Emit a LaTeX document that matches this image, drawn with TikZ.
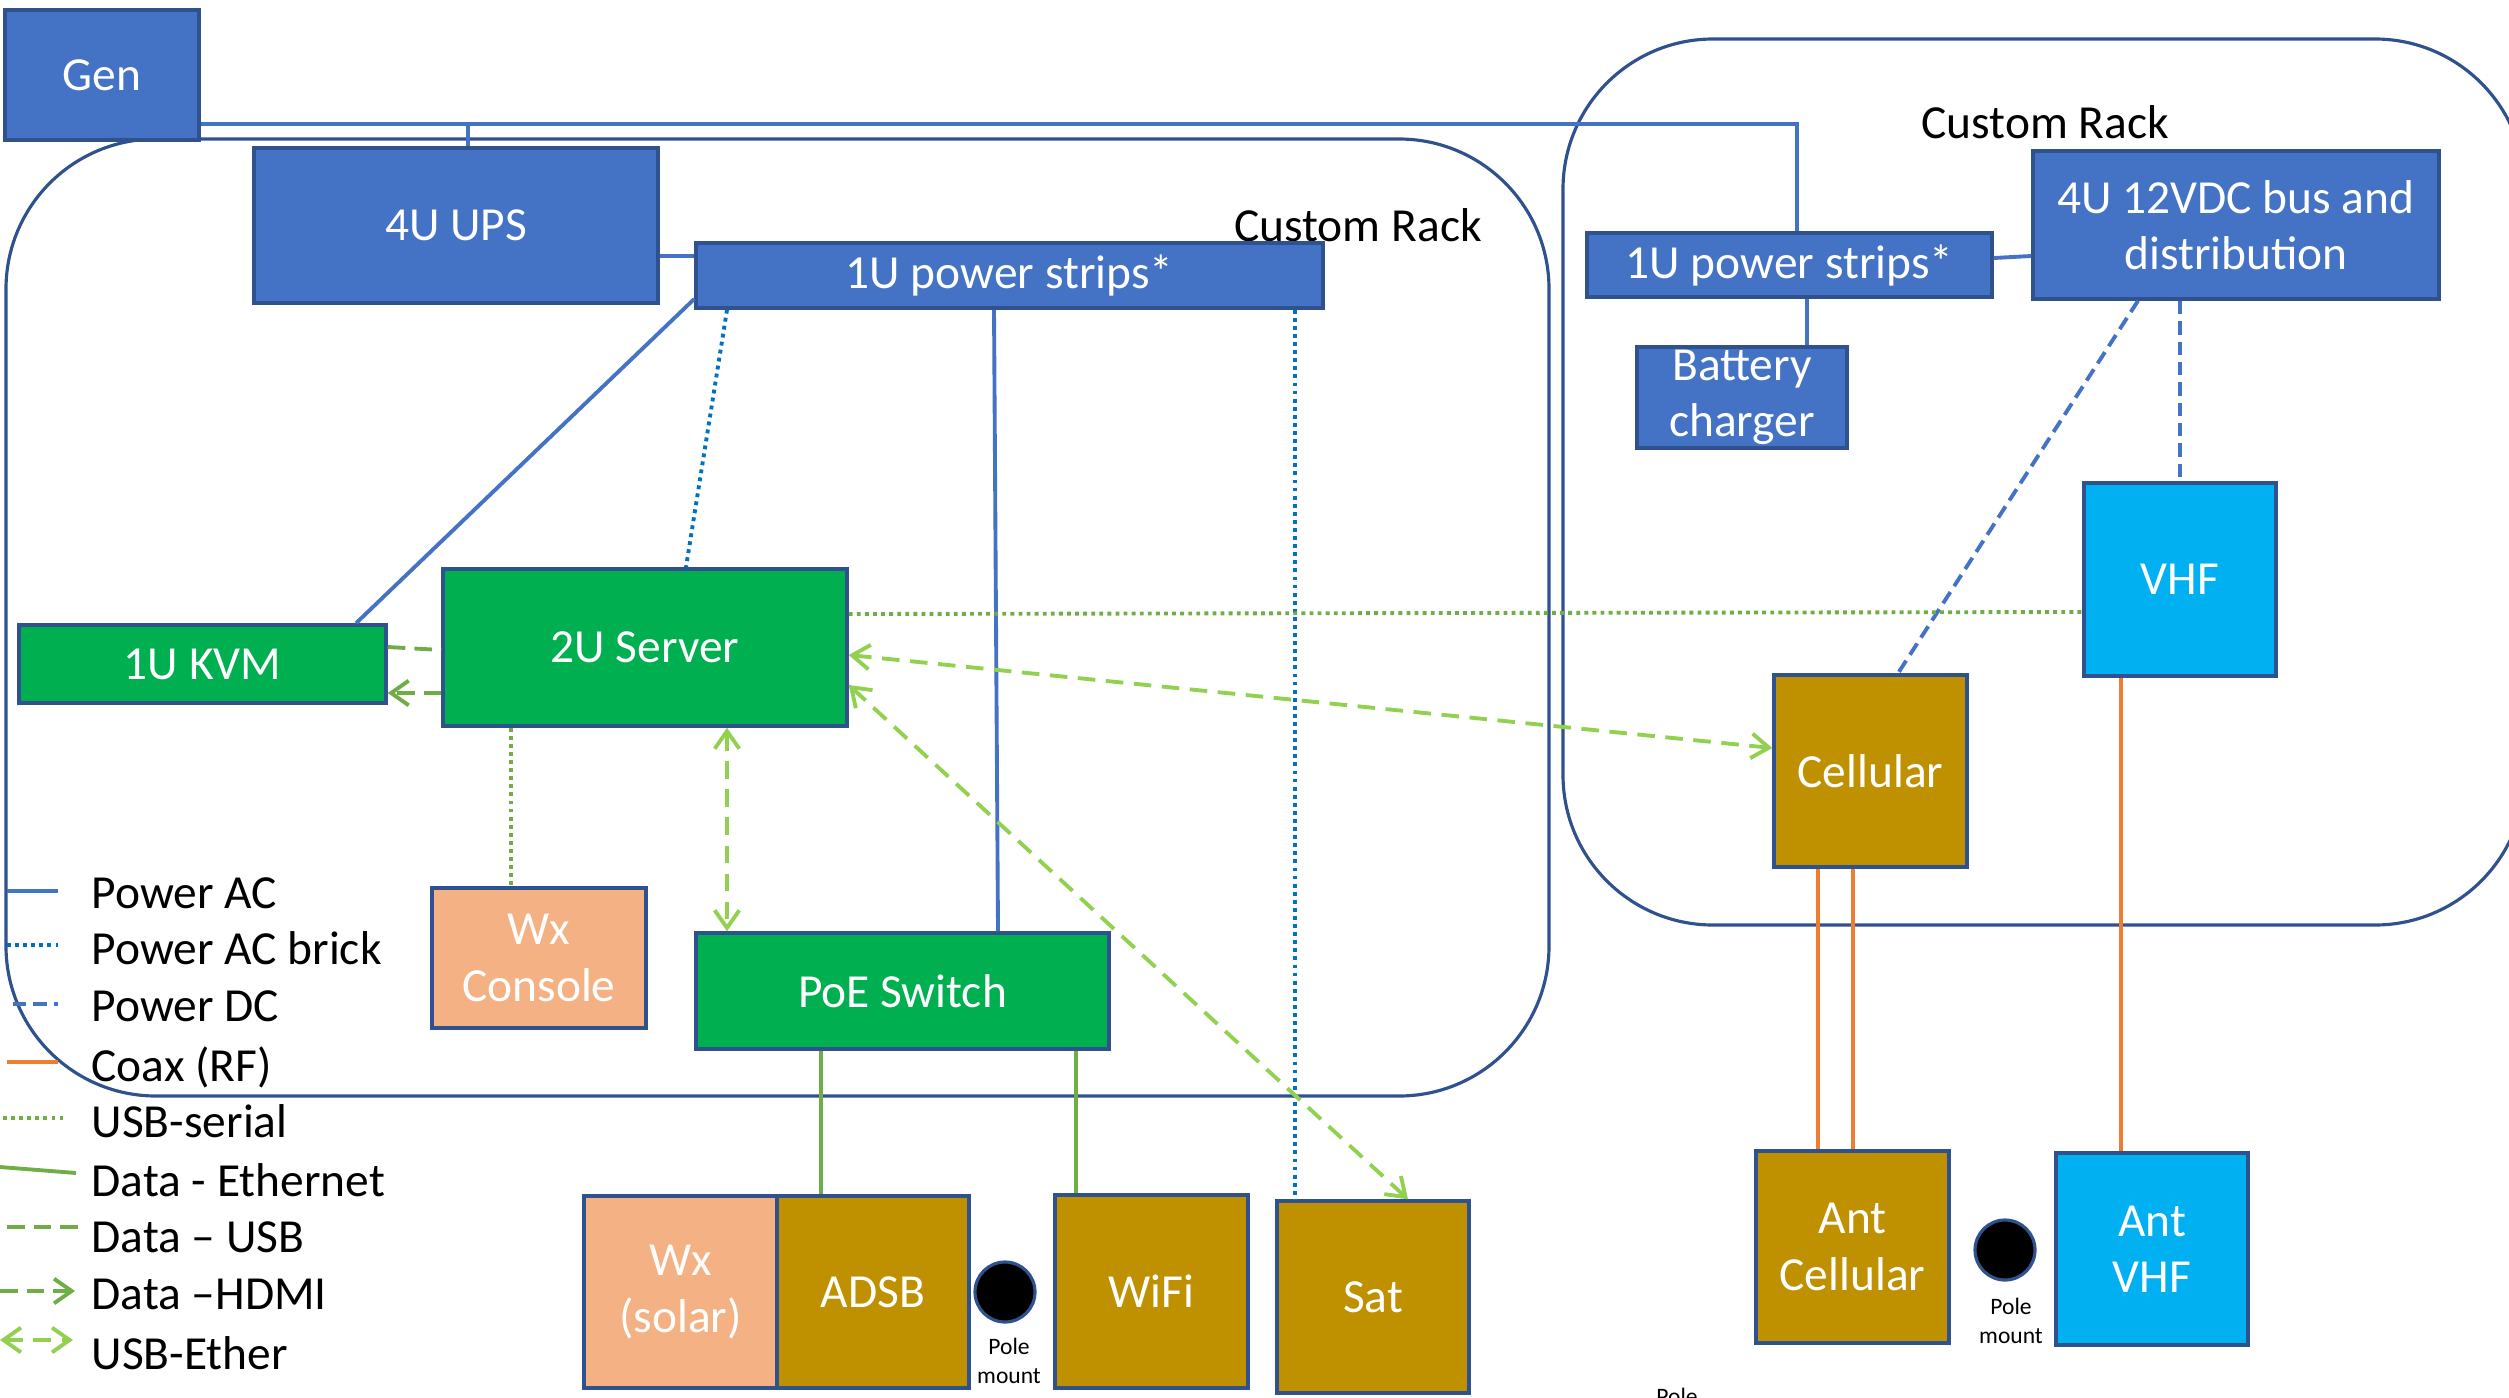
\documentclass[tikz,border=0pt]{standalone}
\usepackage{fontspec}
\setmainfont{Carlito}
\usetikzlibrary{arrows.meta}

\definecolor{boxblue}{HTML}{4472C4}
\definecolor{edgeblue}{HTML}{2F528F}
\definecolor{brickblue}{HTML}{0070C0}
\definecolor{srvgreen}{HTML}{00B050}
\definecolor{gold}{HTML}{BF9000}
\definecolor{peach}{HTML}{F4B183}
\definecolor{sky}{HTML}{00B0F0}
\definecolor{coaxorange}{HTML}{ED7D31}
\definecolor{datagreen}{HTML}{70AD47}
\definecolor{ethergreen}{HTML}{92D050}

\newcommand{\bigtxt}{\fontsize{13.5}{16}\selectfont}
\newcommand{\poletxt}{\fontsize{6.7}{8.1}\selectfont}

\tikzset{
	unit/.style={draw=edgeblue, line width=1pt, text=white, font=\bigtxt, align=center, inner sep=0pt},
	wh/.style 2 args={minimum width=#1cm, minimum height=#2cm},
	rack/.style={draw=edgeblue, line width=0.9pt, rounded corners=1.5cm},
	pac/.style={draw=boxblue, line width=1.1pt},
	brick/.style={draw=brickblue, line width=1.1pt, dash pattern=on 1.1pt off 1.2pt},
	pdc/.style={draw=boxblue, line width=1.1pt, dash pattern=on 3.8pt off 2pt},
	coax/.style={draw=coaxorange, line width=1.1pt},
	serial/.style={draw=datagreen, line width=1.1pt, dash pattern=on 1.1pt off 1.2pt},
	eth/.style={draw=datagreen, line width=1.1pt},
	usb/.style={draw=datagreen, line width=1.1pt, dash pattern=on 5pt off 2.6pt},
	hdmi/.style={usb, -{Straight Barb[length=5pt,width=7pt]}},
	ether/.style={draw=ethergreen, line width=1.1pt, dash pattern=on 5pt off 3pt,
		{Straight Barb[length=5pt,width=7pt]}-{Straight Barb[length=5pt,width=7pt]}},
	pole/.style={circle, fill=black, draw=edgeblue, line width=0.9pt, minimum size=0.6cm, inner sep=0pt},
	legend/.style={font=\bigtxt, anchor=base west, inner sep=0pt}
}

\begin{document}
\begin{tikzpicture}
	\useasboundingbox (0,0) rectangle (25.09,-13.97);

	%The two custom racks
	\draw[rack] (0.06,-1.39) rectangle (15.49,-10.96);
	\draw[rack] (15.63,-0.39) rectangle (25.25,-9.25);
	\node[font=\bigtxt, anchor=base, inner sep=0pt] (rackA) at (13.58,-2.41) {Custom Rack};
	\node[font=\bigtxt, anchor=base, inner sep=0pt] (rackB) at (20.45,-1.38) {Custom Rack};

	%Power side
	\node[unit, fill=boxblue, wh={1.94}{1.30}] (gen) at (1.02,-0.75) {Gen};
	\node[unit, fill=boxblue, wh={4.04}{1.55}] (ups) at (4.56,-2.255) {4U UPS};
	\node[unit, fill=boxblue, wh={6.27}{0.65}] (strips1) at (10.095,-2.755) {1U power strips*};
	\node[unit, fill=boxblue, wh={4.05}{0.64}] (strips2) at (17.895,-2.65) {1U power strips*};
	\node[unit, fill=boxblue, wh={4.06}{1.48}] (dcbus) at (22.36,-2.25) {4U 12VDC bus and\\distribution};
	\node[unit, fill=boxblue, wh={2.10}{1.01}] (charger) at (17.42,-3.975) {Battery\\charger};

	%Rack equipment
	\node[unit, fill=sky, wh={1.92}{1.93}] (vhf) at (21.80,-5.795) {VHF};
	\node[unit, fill=gold, wh={1.93}{1.92}] (cell) at (18.705,-7.71) {Cellular};
	\node[unit, fill=srvgreen, wh={4.04}{1.57}] (server) at (6.45,-6.475) {2U Server};
	\node[unit, fill=srvgreen, wh={3.67}{0.78}] (kvm) at (2.025,-6.64) {1U KVM};
	\node[unit, fill=peach, wh={2.14}{1.40}] (wxcon) at (5.39,-9.58) {Wx\\Console};
	\node[unit, fill=srvgreen, wh={4.13}{1.16}] (poe) at (9.025,-9.91) {PoE Switch};

	%Outside units
	\node[unit, fill=peach, wh={1.93}{1.92}] (wxsolar) at (6.805,-12.92) {Wx\\(solar)};
	\node[unit, fill=gold, wh={1.92}{1.92}] (adsb) at (8.73,-12.92) {ADSB};
	\node[unit, fill=gold, wh={1.93}{1.93}] (wifi) at (11.515,-12.915) {WiFi};
	\node[unit, fill=gold, wh={1.92}{1.92}] (sat) at (13.73,-12.97) {Sat};
	\node[unit, fill=gold, wh={1.93}{1.92}] (antcell) at (18.525,-12.47) {Ant\\Cellular};
	\node[unit, fill=sky, wh={1.92}{1.92}] (antvhf) at (21.52,-12.49) {Ant\\VHF};

	%Pole mounts
	\node[pole] (pole1) at (10.05,-12.92) {};
	\node[pole] (pole2) at (20.05,-12.50) {};
	\node[font=\poletxt, align=center, inner sep=0pt] (pole1lab) at (10.09,-13.61) {Pole\\mount};
	\node[font=\poletxt, align=center, inner sep=0pt] (pole2lab) at (20.11,-13.21) {Pole\\mount};
	\node[font=\poletxt, anchor=north, inner sep=0pt] (pole3lab) at (16.77,-13.87) {Pole};

	%AC power
	\coordinate (tap) at (4.68,-1.24);
	\draw[pac] (gen.east |- 0,-1.24) -| (strips2.north -| 17.97,0);
	\draw[pac] (tap) -- (ups.north -| tap);
	\draw[pac] (ups.east |- 0,-2.56) -- (strips1.west |- 0,-2.56);
	\draw[pac] (strips2.east |- 0,-2.58) -- (dcbus.west |- 0,-2.56);
	\draw[pac] (strips2.south -| 18.07,0) -- (charger.north -| 18.07,0);
	\draw[pac] (strips1.west |- 0,-2.99) -- (kvm.north -| 3.56,0);
	\draw[pac] (strips1.south -| 9.94,0) -- (poe.north -| 9.98,0);
	\draw[brick] (strips1.south -| 7.27,0) -- (server.north -| 6.86,0);
	\draw[brick] (strips1.south -| 12.95,0) -- (sat.north -| 12.95,0);

	%DC power
	\draw[pdc] (dcbus.south -| 21.80,0) -- (vhf.north);
	\draw[pdc] (dcbus.south -| 21.38,0) -- (cell.north -| 18.98,0);

	%Data
	\draw[usb] (kvm.east |- 0,-6.47) -- (server.west |- 0,-6.50);
	\draw[hdmi] (server.west |- 0,-6.93) -- (kvm.east |- 0,-6.93);
	\draw[serial] (server.east |- 0,-6.14) -- (vhf.west |- 0,-6.12);
	\draw[serial] (server.south -| 5.11,0) -- (wxcon.north -| 5.11,0);
	\draw[ether] (server.east |- 0,-6.55) -- (cell.west |- 0,-7.48);
	\draw[ether] (server.east |- 0,-6.85) -- (sat.north -| 14.08,0);
	\draw[ether] (server.south -| 7.27,0) -- (poe.north -| 7.27,0);
	\draw[eth] (poe.south -| 8.21,0) -- (adsb.north -| 8.21,0);
	\draw[eth] (poe.south -| 10.76,0) -- (wifi.north -| 10.76,0);

	%Coax to the antennas
	\draw[coax] (cell.south -| 18.18,0) -- (antcell.north -| 18.18,0);
	\draw[coax] (cell.south -| 18.53,0) -- (antcell.north -| 18.53,0);
	\draw[coax] (vhf.south -| 21.21,0) -- (antvhf.north -| 21.21,0);

	%Legend
	\draw[pac] (0.07,-8.91) -- (0.58,-8.91);
	\draw[brick] (0.07,-9.45) -- (0.58,-9.45);
	\draw[pdc] (0.13,-10.04) -- (0.58,-10.04);
	\draw[coax] (0.07,-10.62) -- (0.58,-10.62);
	\draw[serial] (0.03,-11.18) -- (0.66,-11.18);
	\draw[eth] (0,-11.67) -- (0.76,-11.73);
	\draw[usb] (0.07,-12.27) -- (0.82,-12.27);
	\draw[hdmi] (0,-12.91) -- (0.75,-12.91);
	\draw[ether] (0,-13.40) -- (0.73,-13.40);
	\foreach \ty/\lab [count=\i] in {9.08/Power AC, 9.64/Power AC brick, 10.21/Power DC,
		10.81/Coax (RF), 11.37/USB-serial, 11.96/Data - Ethernet, 12.52/Data – USB,
		13.09/Data –HDMI, 13.69/USB-Ether}
		\node[legend] (lg\i) at (0.91,-\ty) {\lab};
\end{tikzpicture}
\end{document}
